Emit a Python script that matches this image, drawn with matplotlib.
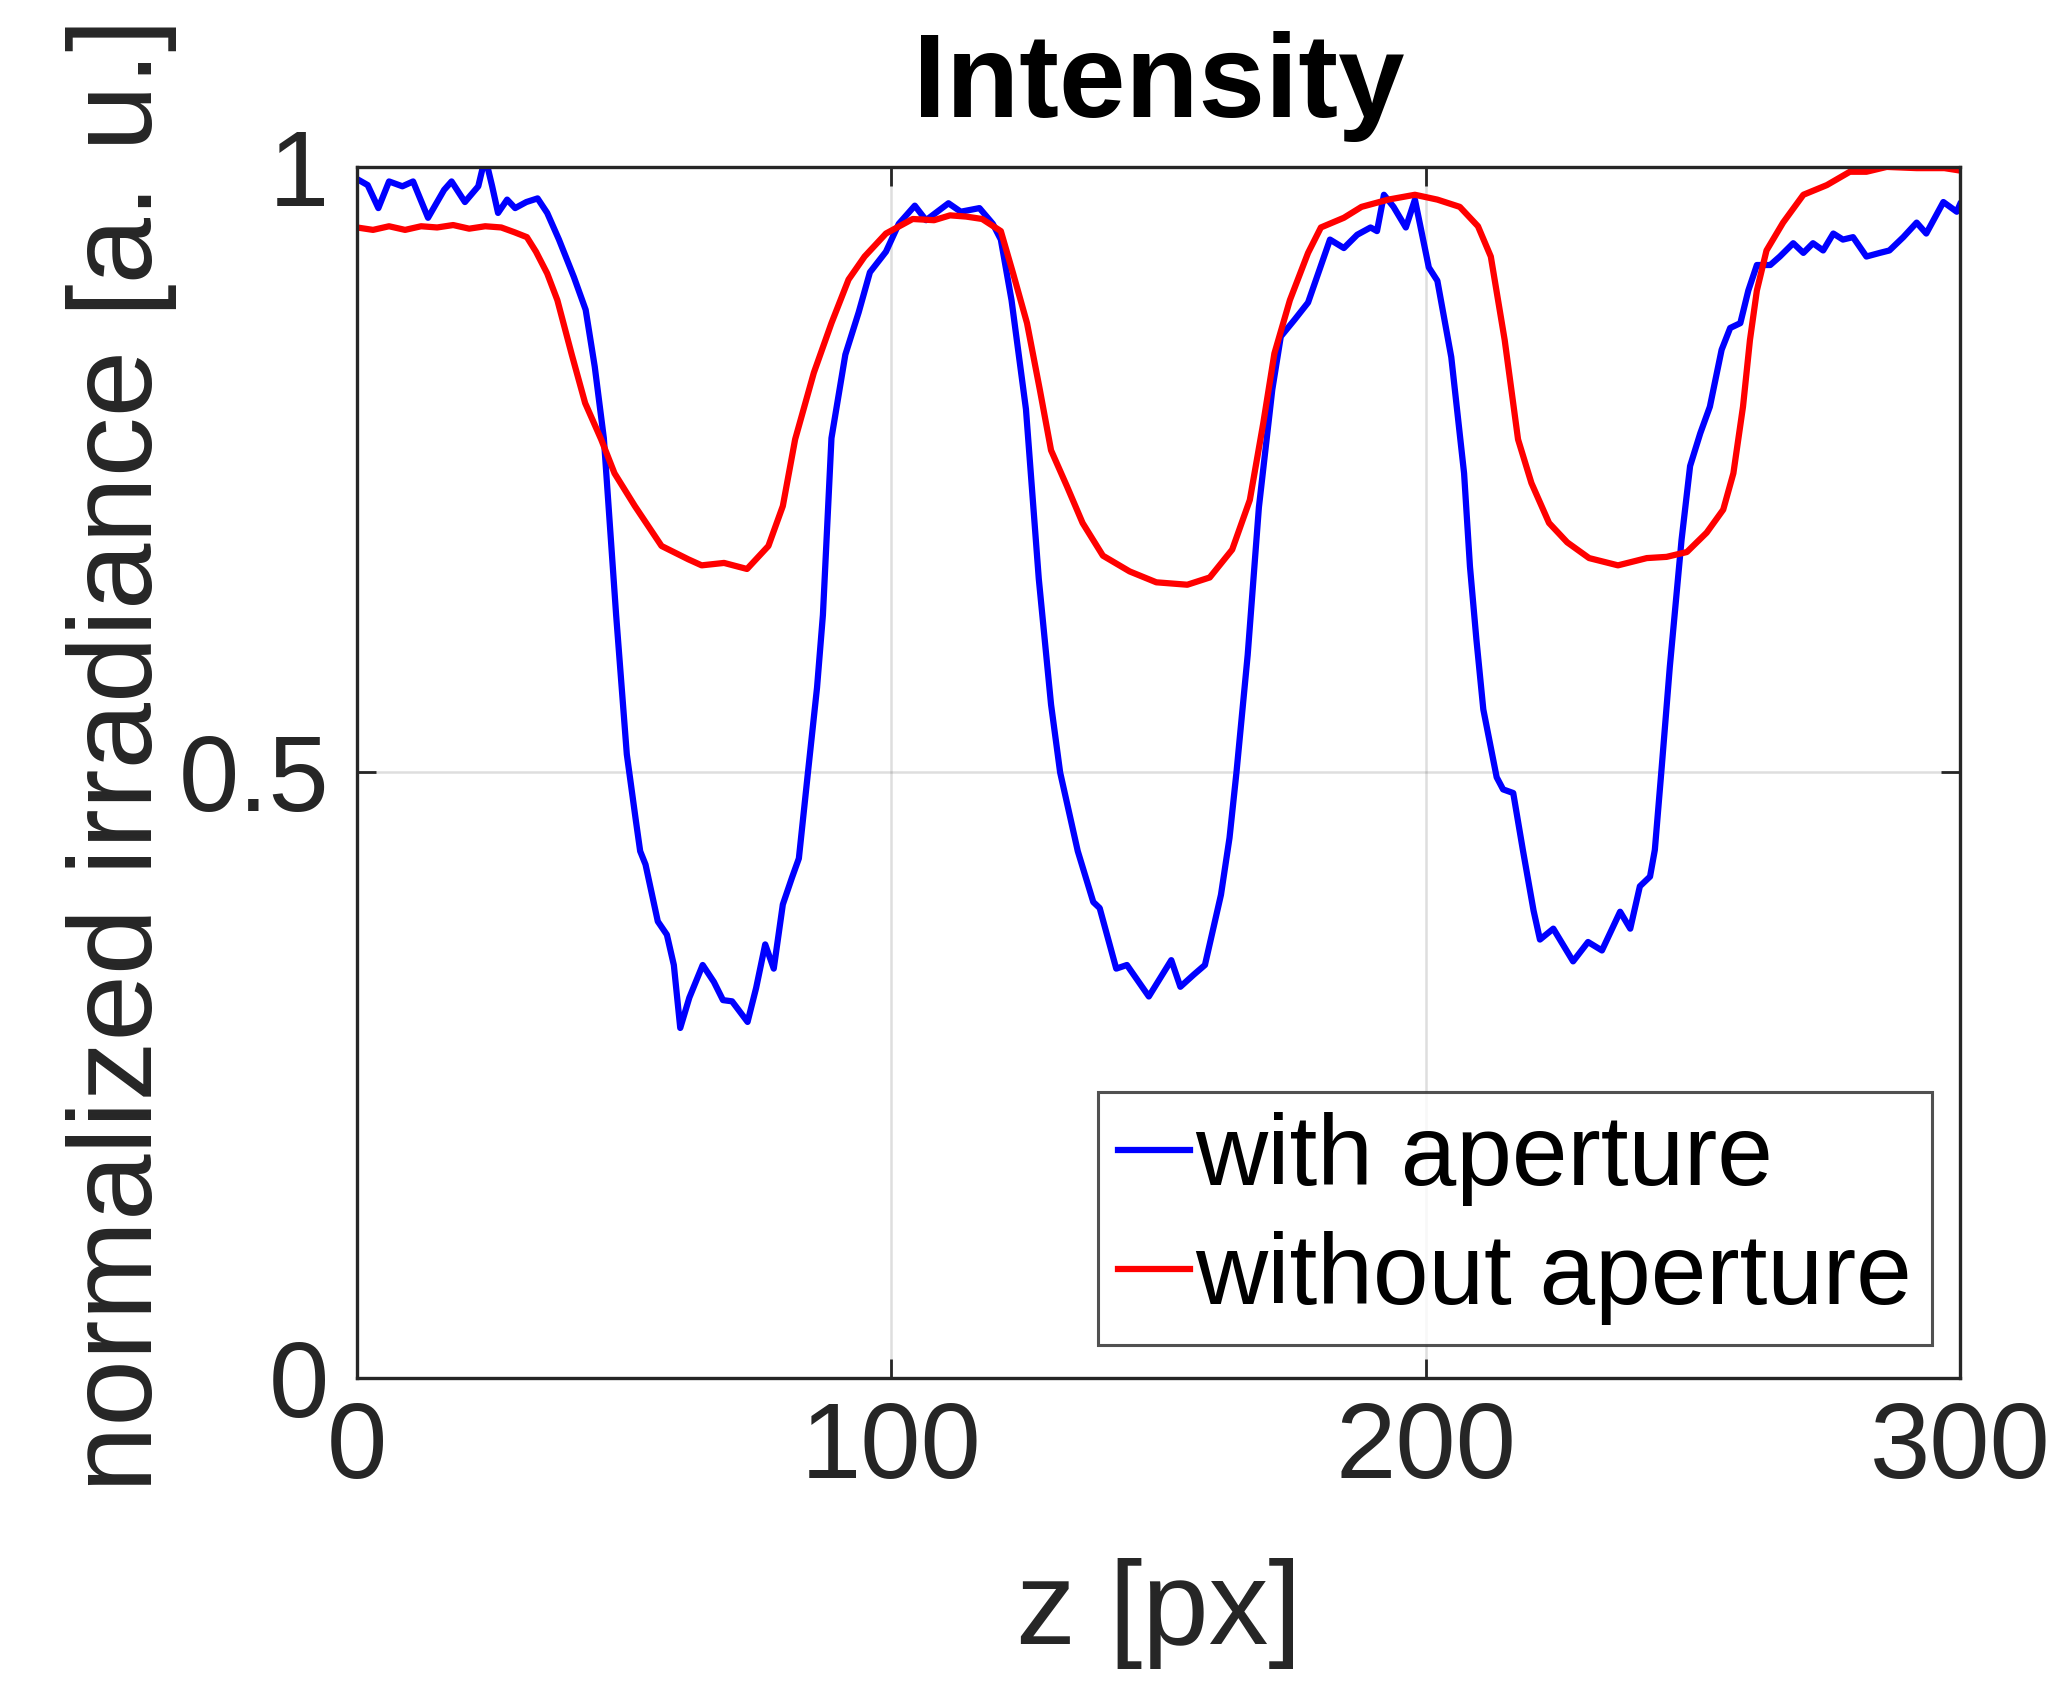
import matplotlib
matplotlib.use("Agg")
import matplotlib.pyplot as plt

plt.rcParams['font.family'] = ['Liberation Sans', 'DejaVu Sans']

# ---- data ----
z_with = [0, 2, 4, 6, 8.5, 10.5, 13.3, 16.3, 17.7, 20.2, 22.7, 24.0, 25.3, 26.4, 28.1,
          29.6, 31.7, 33.8, 35.6, 37.8, 40.6, 42.8, 44.5, 46.2, 48.5, 50.5, 52.2, 53.0,
          54.0, 56.3, 58.0, 59.3, 60.5, 62.2, 64.7, 66.8, 68.5, 70.2, 73.1, 74.7, 76.4,
          78.0, 79.7, 81.4, 82.7, 84.4, 86.1, 87.2, 88.8, 91.4, 93.9, 96.0, 99.0, 101.4,
          104.4, 106.5, 110.7, 113.0, 116.5, 119.0, 120.5, 122.5, 125.2, 127.6, 129.9,
          131.6, 134.9, 137.8, 139.0, 142.1, 144.1, 148.2, 150.3, 152.4, 154.1, 156.6,
          158.7, 161.7, 163.3, 164.6, 166.7, 168.8, 171.3, 172.9, 175.5, 178.0, 182.1,
          184.7, 187.2, 189.7, 190.9, 192.2, 194.0, 196.3, 198.0, 200.6, 202.2, 204.8,
          207.2, 208.3, 209.5, 210.8, 213.3, 214.5, 216.4, 218.2, 220.2, 221.4, 223.9,
          227.6, 230.4, 233.0, 236.4, 238.3, 240.1, 242.0, 242.9, 244.2, 245.7, 247.9,
          249.5, 251.4, 253.2, 255.4, 257.0, 258.9, 260.4, 262.0, 264.5, 266.3, 268.8,
          270.7, 272.5, 274.4, 276.3, 278.1, 280.0, 282.5, 285.0, 286.8, 289.4, 291.9,
          293.7, 296.9, 299.4, 300.0]
I_with = [0.99, 0.985, 0.966, 0.988, 0.984, 0.988, 0.958, 0.981, 0.988, 0.971, 0.984,
          1.008, 0.984, 0.962, 0.973, 0.966, 0.971, 0.974, 0.962, 0.94, 0.909, 0.882,
          0.835, 0.776, 0.63, 0.515, 0.46, 0.435, 0.424, 0.377, 0.366, 0.341, 0.289,
          0.314, 0.341, 0.327, 0.312, 0.311, 0.294, 0.322, 0.358, 0.338, 0.391, 0.413,
          0.429, 0.5, 0.57, 0.63, 0.776, 0.845, 0.88, 0.913, 0.93, 0.953, 0.968, 0.956,
          0.97, 0.963, 0.966, 0.953, 0.94, 0.89, 0.80, 0.66, 0.556, 0.5, 0.435, 0.393,
          0.388, 0.338, 0.341, 0.315, 0.33, 0.345, 0.323, 0.333, 0.341, 0.399, 0.446,
          0.5, 0.597, 0.719, 0.816, 0.86, 0.874, 0.888, 0.94, 0.933, 0.944, 0.95, 0.947,
          0.977, 0.967, 0.95, 0.973, 0.917, 0.906, 0.843, 0.747, 0.67, 0.61, 0.552,
          0.496, 0.486, 0.483, 0.436, 0.386, 0.362, 0.371, 0.344, 0.36, 0.353, 0.385,
          0.371, 0.406, 0.414, 0.436, 0.505, 0.587, 0.692, 0.753, 0.78, 0.802, 0.849,
          0.867, 0.871, 0.898, 0.919, 0.919, 0.926, 0.937, 0.929, 0.937, 0.931, 0.945,
          0.94, 0.942, 0.926, 0.929, 0.931, 0.942, 0.954, 0.945, 0.971, 0.963, 0.969]

z_without = [0, 3, 6, 9, 12, 15, 18, 21, 24, 27, 29.5, 31.8, 33.5, 35.6, 37.5, 40.2,
             42.7, 45.7, 48.2, 52, 57, 62, 64.5, 68.7, 73, 77, 79.7, 82, 85.5, 88.8, 92,
             95, 99, 104, 108, 111, 114, 117, 120.5, 122.8, 125.4, 127.8, 129.9, 132.9,
             135.8, 139.6, 144.6, 149.6, 155.4, 159.6, 163.8, 167.1, 169.6, 171.7, 174.6,
             178.0, 180.4, 184.7, 188, 193, 198, 202.2, 206.4, 209.8, 212.2, 214.8, 217.3,
             219.8, 223.1, 226.5, 230.6, 236, 241.4, 245.1, 248.9, 252.6, 255.7, 257.6,
             259.4, 260.7, 262.0, 263.8, 266.9, 270.7, 275.1, 279.4, 282.5, 286.3, 291.9,
             297.1, 300]
I_without = [0.95, 0.948, 0.951, 0.948, 0.951, 0.95, 0.952, 0.949, 0.951, 0.95, 0.946,
             0.942, 0.93, 0.912, 0.89, 0.845, 0.805, 0.775, 0.747, 0.72, 0.687, 0.676,
             0.671, 0.673, 0.668, 0.687, 0.72, 0.775, 0.83, 0.871, 0.907, 0.926, 0.945,
             0.957, 0.956, 0.96, 0.959, 0.957, 0.947, 0.912, 0.871, 0.816, 0.766, 0.736,
             0.706, 0.679, 0.666, 0.657, 0.655, 0.661, 0.684, 0.725, 0.788, 0.846, 0.89,
             0.929, 0.95, 0.958, 0.967, 0.973, 0.977, 0.973, 0.967, 0.951, 0.926, 0.857,
             0.775, 0.739, 0.706, 0.69, 0.677, 0.671, 0.677, 0.678, 0.682, 0.698, 0.717,
             0.747, 0.802, 0.857, 0.898, 0.931, 0.954, 0.977, 0.985, 0.996, 0.996, 1.0,
             0.999, 0.999, 0.997]

labels = ["with aperture", "without aperture"]
x_ticks = [0, 100, 200, 300]
y_ticks = [0, 0.5, 1]
y_ticklabels = ["0", "0.5", "1"]

# ---- figure ----
fig = plt.figure(figsize=(20.54, 16.86), dpi=100)
ax = fig.add_axes([0.1738, 0.1827, 0.7804, 0.7183])

ax.plot(z_with, I_with, color=(0, 0, 1), lw=4.5, label=labels[0],
        solid_joinstyle='round')
ax.plot(z_without, I_without, color=(1, 0, 0), lw=4.5, label=labels[1],
        solid_joinstyle='round')

ax.set_xlim(0, 300)
ax.set_ylim(0, 1)
ax.set_xticks(x_ticks)
ax.set_yticks(y_ticks)
ax.set_yticklabels(y_ticklabels)

gray = '#262626'
ax.grid(True, color=gray, alpha=0.15, lw=1.8)
ax.set_axisbelow(True)
for s in ax.spines.values():
    s.set_color(gray)
    s.set_linewidth(2.4)
ax.tick_params(direction='in', length=14, width=2.0, colors=gray, labelsize=78,
               top=True, right=True)
ax.tick_params(axis='x', pad=16)
ax.tick_params(axis='y', pad=20)

ax.set_xlabel("z [px]", fontsize=86, color=gray)
ax.set_ylabel("normalized irradiance [a. u.]", fontsize=86, color=gray)
ax.xaxis.set_label_coords(0.5, -0.149)
ax.yaxis.set_label_coords(-0.112, 0.514)
ax.set_title("Intensity", fontsize=86, fontweight='bold', color='black', pad=36)

leg = ax.legend(loc='lower right', bbox_to_anchor=(0.9825, 0.027), fontsize=72,
                frameon=True, fancybox=False, handlelength=0.72, handletextpad=0.05,
                borderpad=0.2, labelspacing=0.25, borderaxespad=0)
leg.get_frame().set_edgecolor(gray)
leg.get_frame().set_linewidth(2.2)

fig.savefig("out.png", dpi=100, facecolor='white')
